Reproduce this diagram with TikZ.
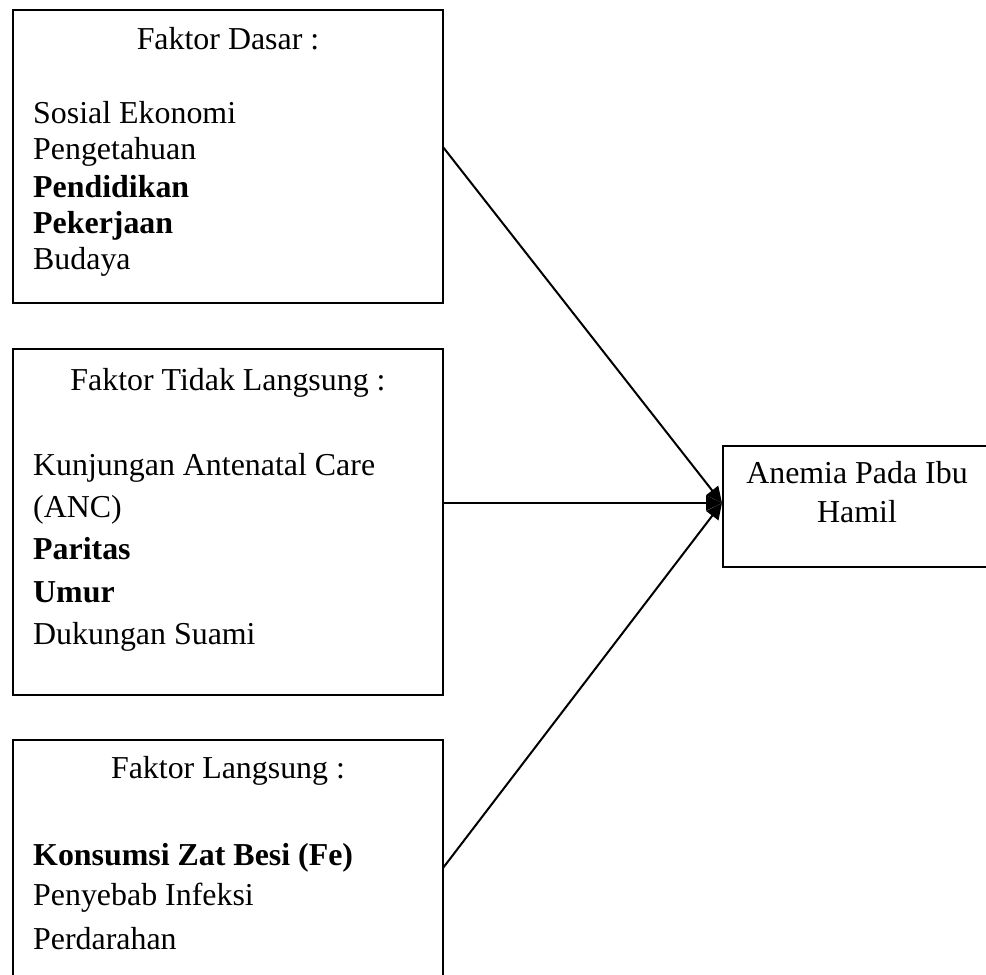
\documentclass[tikz,border=0pt]{standalone}
\usepackage{fontspec}
\setmainfont{Liberation Serif}
\usetikzlibrary{arrows.meta}
\begin{document}
\begin{tikzpicture}[x=1pt,y=-1pt,
  boxline/.style={draw=black,line width=2pt},
  txt/.style={inner sep=0pt,anchor=base west,font=\fontsize{31.9}{38}\selectfont},
  ctxt/.style={inner sep=0pt,anchor=base,font=\fontsize{31.9}{38}\selectfont},
  arr/.style={line width=2pt,-{Triangle[length=16pt,width=15pt]}}]
\useasboundingbox (0,0) rectangle (986,975);
% boxes
\draw[boxline] (13,10) rectangle (443,303);
\draw[boxline] (13,349) rectangle (443,695);
\draw[boxline] (13,740) rectangle (443,1000);
\draw[boxline] (723,446) rectangle (995,567);
% box 1 texts
\node[ctxt] (h1) at (228,49) {Faktor Dasar :};
\node[txt] (a1) at (33,123) {Sosial Ekonomi};
\node[txt] (a2) at (33,159) {Pengetahuan};
\node[txt] (a3) at (33,197) {\bfseries Pendidikan};
\node[txt] (a4) at (33,233) {\bfseries Pekerjaan};
\node[txt] (a5) at (33,269) {Budaya};
% box 2 texts
\node[ctxt] (h2) at (228,390) {Faktor Tidak Langsung :};
\node[txt] (b1) at (33,475) {Kunjungan Antenatal Care};
\node[txt] (b2) at (33,517) {(ANC)};
\node[txt] (b3) at (33,559) {\bfseries Paritas};
\node[txt] (b4) at (33,602) {\bfseries Umur};
\node[txt] (b5) at (33,644) {Dukungan Suami};
% box 3 texts
\node[ctxt] (h3) at (228,778) {Faktor Langsung :};
\node[txt] (c1) at (33,865) {\bfseries Konsumsi Zat Besi (Fe)};
\node[txt] (c2) at (33,905) {Penyebab Infeksi};
\node[txt] (c3) at (33,949) {Perdarahan};
% box 4 texts
\node[ctxt] (d1) at (857,483) {Anemia Pada Ibu};
\node[ctxt] (d2) at (857,522) {Hamil};
% connectors
\coordinate (s1) at (443,147);
\coordinate (s2) at (443,503);
\coordinate (s3) at (443,868);
\coordinate (tip) at (722,503);
\draw[arr] (s1) -- (tip);
\draw[arr] (s2) -- (tip);
\draw[arr] (s3) -- (tip);
\end{tikzpicture}
\end{document}
